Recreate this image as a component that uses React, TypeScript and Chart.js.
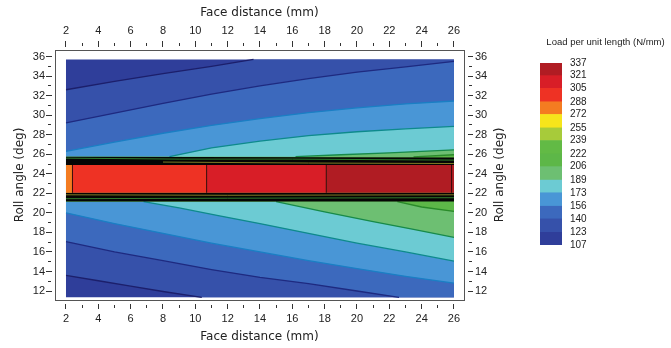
import React, { useEffect, useRef } from 'react';
import { Chart, registerables } from 'chart.js';

Chart.register(...registerables);

// ---------- axes ----------
const xTickValues = [2, 3, 4, 5, 6, 7, 8, 9, 10, 11, 12, 13, 14, 15, 16, 17, 18, 19, 20, 21, 22, 23, 24, 25, 26];
const yTickValues = [12, 13, 14, 15, 16, 17, 18, 19, 20, 21, 22, 23, 24, 25, 26, 27, 28, 29, 30, 31, 32, 33, 34, 35, 36];
const xRange = [1.32, 26.62];
const yRange = [11.08, 36.67];
const xTitle = 'Face distance (mm)';
const yTitle = 'Roll angle (deg)';
const legendTitle = 'Load per unit length (N/mm)';

// ---------- colour scale ----------
const levels = [107, 123, 140, 156, 173, 189, 206, 222, 239, 255, 272, 288, 305, 321, 337];
const bandColors = [
  '#2f3e9a', '#3651aa', '#3c69bd', '#4996d6', '#6ccbd3', '#6dbf72', '#5db748',
  '#62ba45', '#a7cb3a', '#f6e51b', '#f47c21', '#ee3224', '#d81e27', '#b01c23',
];
// contour line colours for levels 123, 140, 156, 173, 189, 206
const contourLineColors = ['#1c1f6b', '#1e2a80', '#1a7fc4', '#0e8a8c', '#178a4a', '#2a8a2a'];

// ---------- data domain ----------
const domainX = [2, 26];
const domainY = [11.35, 35.7];
const ridgeOuter = [21.15, 25.75]; // black band bottom / top
const ridgeInner = [22.05, 24.9]; // red bar bottom / top

// ---------- contour lines (x, y) ----------
const upper123 = [[2, 32.6], [5, 33.45], [8, 34.25], [11, 35.0], [13.6, 35.7]];
const lower123 = [[2, 13.6], [4, 13.05], [6, 12.5], [8, 11.95], [10.4, 11.35]];
const upper140 = [[2, 29.2], [5, 30.2], [8, 31.2], [11, 32.15], [14, 33.0], [17, 33.75], [20, 34.4], [23, 34.95], [26, 35.5]];
const lower140 = [[2, 17.05], [5, 16.0], [8, 15.1], [11, 14.2], [14, 13.4], [17, 12.75], [20, 12.0], [22.6, 11.35]];
const upper156 = [[2, 26.3], [5, 27.25], [8, 28.15], [11, 28.95], [14, 29.65], [17, 30.25], [20, 30.75], [23, 31.15], [26, 31.45]];
const lower156 = [[2, 20.0], [5, 18.9], [8, 17.9], [11, 16.9], [14, 16.0], [17, 15.1], [20, 14.3], [23, 13.5], [26, 12.8]];
const upper173 = [[8.4, 25.75], [11, 26.65], [14, 27.35], [17, 27.9], [20, 28.3], [23, 28.6], [26, 28.85]];
const lower173 = [[6.8, 21.15], [9, 20.5], [11.5, 19.7], [14, 18.9], [17, 17.9], [20, 16.9], [23, 16.0], [26, 15.05]];
const upper189 = [[16.2, 25.75], [19, 25.95], [22, 26.15], [26, 26.45]];
const lower189 = [[15, 21.15], [18, 20.1], [21, 19.1], [23.5, 18.3], [26, 17.5]];
const upper206 = [[23.5, 25.72], [26, 25.95]];
const lower206 = [[22.5, 21.15], [24, 20.6], [26, 20.15]];

// thin lines visible inside the black ridge
const ridgeGreenUpper = [[2, 25.6], [9, 25.5], [16, 25.5], [26, 25.4]];
const ridgeOliveUpper = [[8, 25.2], [17, 25.1], [26, 25.05]];
const ridgeOliveLower = [[2, 21.85], [12, 21.8], [26, 21.85]];
const ridgeGreenLower = [[2, 21.45], [12, 21.5], [26, 21.55]];

// red bar cells along the ridge
const ridgeBreaks = [2, 2.4, 10.7, 18.1, 26];
const ridgeLevels = [272, 288, 305, 321];
const ridgeDividers = [2.4, 10.7, 18.1, 25.85];

// ---------- helpers ----------
const tickFont = { family: '"Liberation Sans", Arial, sans-serif', size: 11 };
const titleFont = { family: '"DejaVu Sans", Verdana, sans-serif', size: 12 };
const colorOf = (level: number) => bandColors[levels.indexOf(level)];
const pts = (a: number[][]) => a.map(([x, y]) => ({ x, y }));
const rev = (a: number[][]) => a.slice().reverse();

function polygon(points: number[][], color: string) {
  return {
    data: pts(points),
    fill: 'shape',
    backgroundColor: color,
    borderColor: 'rgba(0,0,0,0)',
    borderWidth: 0,
    pointRadius: 0,
    tension: 0,
  };
}
function polyline(points: number[][], color: string, width: number) {
  return {
    data: pts(points),
    fill: false,
    borderColor: color,
    borderWidth: width,
    pointRadius: 0,
    tension: 0,
  };
}

function buildDatasets() {
  const [x0, x1] = domainX;
  const [y0, y1] = domainY;
  const [rb, rt] = ridgeOuter;
  const [ib, it] = ridgeInner;
  const layers: any[] = [];
  layers.push(polygon([[x0, y0], [x1, y0], [x1, y1], [x0, y1]], colorOf(107)));
  layers.push(polygon([...upper123, [x1, y1], [x1, y0], ...rev(lower123)], colorOf(123)));
  layers.push(polygon([...upper140, [x1, y0], ...rev(lower140)], colorOf(140)));
  layers.push(polygon([...upper156, ...rev(lower156)], colorOf(156)));
  layers.push(polygon([[x0, rt], ...upper173, ...rev(lower173), [x0, rb]], colorOf(173)));
  layers.push(polygon([[x0, rt], ...upper189, ...rev(lower189), [x0, rb]], colorOf(189)));
  layers.push(polygon([[x0, rt], ...upper206, ...rev(lower206), [x0, rb]], colorOf(206)));
  const lines = [
    [upper123, lower123], [upper140, lower140], [upper156, lower156],
    [upper173, lower173], [upper189, lower189], [upper206, lower206],
  ];
  lines.forEach((pair, i) => {
    pair.forEach((l) => layers.push(polyline(l, contourLineColors[i], 1.3)));
  });
  // black ridge bands
  layers.push(polygon([[x0, rt], [x1, rt - 0.08], [x1, it], [x0, it]], '#050505'));
  layers.push(polygon([[x0, ib], [x1, ib], [x1, rb], [x0, rb]], '#050505'));
  layers.push(polyline(ridgeGreenUpper, '#2f7d2c', 1));
  layers.push(polyline(ridgeOliveUpper, '#7f7a24', 1));
  layers.push(polyline(ridgeOliveLower, '#7f7a24', 1));
  layers.push(polyline(ridgeGreenLower, '#2f7d2c', 1));
  // red bar cells
  ridgeLevels.forEach((lv, i) => {
    const a = ridgeBreaks[i];
    const b = ridgeBreaks[i + 1];
    layers.push(polygon([[a, ib], [b, ib], [b, it], [a, it]], colorOf(lv)));
  });
  ridgeDividers.forEach((x) => layers.push(polyline([[x, ib], [x, it]], '#3a0b0b', 1)));
  return layers.map((d, i) => ({ ...d, order: layers.length - i }));
}

function tickDash(startsOuter: boolean) {
  return (ctx: any) => {
    const v = ctx && ctx.tick ? Math.round(ctx.tick.value) : 0;
    const major = v % 2 === 0;
    if (startsOuter) return major ? [6, 20] : [0, 2, 3, 20];
    return major ? [0, 3, 6, 20] : [0, 4, 3, 20];
  };
}
const labelEven = (v: any) => (Math.round(Number(v)) % 2 === 0 ? String(v) : '');

function xAxis(position: 'top' | 'bottom') {
  const bottom = position === 'bottom';
  return {
    type: 'linear',
    position,
    min: xRange[0],
    max: xRange[1],
    afterBuildTicks: (s: any) => { s.ticks = xTickValues.map((value) => ({ value })); },
    afterFit: (s: any) => { s.height = bottom ? 48 : 50; },
    ticks: { autoSkip: false, maxRotation: 0, minRotation: 0, padding: 3, color: '#222', font: tickFont, callback: labelEven },
    grid: { drawOnChartArea: false, drawTicks: true, tickLength: 9, tickColor: '#333', tickWidth: 1, tickBorderDash: tickDash(!bottom) },
    border: { display: true, color: '#555', width: 1 },
    title: { display: true, text: xTitle, color: '#222', font: titleFont, padding: bottom ? { top: 4, bottom: 4 } : { top: 6, bottom: 4 } },
  };
}
function yAxis(position: 'left' | 'right') {
  const left = position === 'left';
  return {
    type: 'linear',
    position,
    min: yRange[0],
    max: yRange[1],
    afterBuildTicks: (s: any) => { s.ticks = yTickValues.map((value) => ({ value })); },
    afterFit: (s: any) => { s.width = left ? 55 : 207; },
    ticks: { autoSkip: false, padding: left ? 1 : 2, color: '#222', font: tickFont, callback: labelEven },
    grid: { drawOnChartArea: false, drawTicks: true, tickLength: 9, tickColor: '#333', tickWidth: 1, tickBorderDash: tickDash(left) },
    border: { display: true, color: '#555', width: 1 },
    title: left
      ? { display: true, text: yTitle, color: '#222', font: titleFont, padding: { top: 13, bottom: 0 } }
      : { display: false },
  };
}

const rightTitlePlugin = {
  id: 'rightTitle',
  afterDraw(chart: any) {
    const { ctx, chartArea } = chart;
    ctx.save();
    ctx.translate(chartArea.right + 36, (chartArea.top + chartArea.bottom) / 2);
    ctx.rotate(-Math.PI / 2);
    ctx.font = '12px "DejaVu Sans", Verdana, sans-serif';
    ctx.fillStyle = '#222';
    ctx.textAlign = 'center';
    ctx.textBaseline = 'middle';
    ctx.fillText(yTitle, 0, 0);
    ctx.restore();
  },
};

export default function App() {
  const mainRef = useRef<HTMLCanvasElement>(null);
  const barRef = useRef<HTMLCanvasElement>(null);

  useEffect(() => {
    const main = new Chart(mainRef.current as HTMLCanvasElement, {
      type: 'line',
      data: { datasets: buildDatasets() as any },
      options: {
        animation: false,
        responsive: false,
        events: [],
        layout: { padding: 0 },
        plugins: { legend: { display: false }, tooltip: { enabled: false }, title: { display: false } },
        scales: {
          x: xAxis('bottom') as any,
          x2: xAxis('top') as any,
          y: yAxis('left') as any,
          y2: yAxis('right') as any,
        },
      },
      plugins: [rightTitlePlugin],
    } as any);

    const bar = new Chart(barRef.current as HTMLCanvasElement, {
      type: 'bar',
      data: {
        labels: [''],
        datasets: bandColors.map((c, i) => ({
          data: [[levels[i], levels[i + 1]]],
          backgroundColor: c,
          borderWidth: 0,
          grouped: false,
          barPercentage: 1,
          categoryPercentage: 1,
        })),
      },
      options: {
        animation: false,
        responsive: false,
        events: [],
        layout: { padding: { left: 20, right: 0, top: 0, bottom: 35 } },
        plugins: {
          legend: { display: false },
          tooltip: { enabled: false },
          title: {
            display: true,
            text: legendTitle,
            color: '#222',
            font: { family: '"Liberation Sans", Arial, sans-serif', size: 9.5, weight: 'normal' },
            padding: { top: 16.3, bottom: 15.3 },
          },
        },
        scales: {
          x: { display: false },
          y: {
            position: 'right',
            min: levels[0],
            max: levels[levels.length - 1],
            afterBuildTicks: (s: any) => { s.ticks = levels.map((value) => ({ value })); },
            afterFit: (s: any) => { s.width = 109; },
            ticks: { autoSkip: false, padding: 8, color: '#222', font: { family: '"Liberation Sans", Arial, sans-serif', size: 10 } },
            grid: { display: false, drawTicks: false },
            border: { display: false },
          },
        },
      },
    } as any);

    return () => {
      main.destroy();
      bar.destroy();
    };
  }, []);

  return (
    <div style={{ position: 'fixed', left: 0, top: 0, width: 671, height: 348, background: '#fff', overflow: 'hidden' }}>
      <canvas ref={mainRef} width={671} height={348} style={{ position: 'absolute', left: 0, top: 0 }} />
      <canvas ref={barRef} width={151} height={260} style={{ position: 'absolute', left: 520, top: 20 }} />
    </div>
  );
}
